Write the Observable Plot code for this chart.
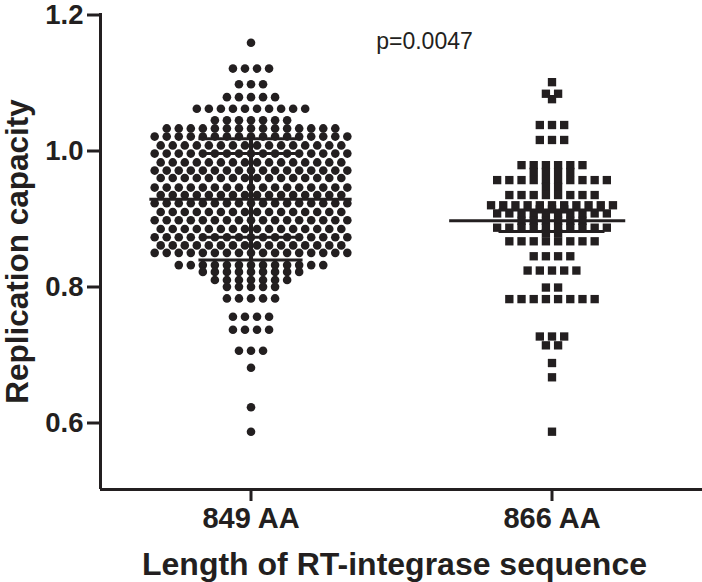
<!DOCTYPE html>
<html><head><meta charset="utf-8">
<script src="https://cdn.jsdelivr.net/npm/d3@7"></script>
<script src="https://cdn.jsdelivr.net/npm/@observablehq/plot@0.6"></script>
<style>body{margin:0;background:#fff} svg{display:block}</style>
</head><body><div id="chart"></div>
<script>
const groups = ["849 AA", "866 AA"];
const yTicks = [0.6, 0.8, 1.0, 1.2];
const pLabel = "p=0.0047";
const xTitle = "Length of RT-integrase sequence";
const yTitle = "Replication capacity";
// rows of points: [replication capacity, number of points]
const rows849 = [
  [1.157,1],[1.119,4],[1.096,3],[1.077,5],[1.060,10],[1.043,7],
  [1.031,15],[1.019,17],[1.006,16],[0.994,17],[0.981,16],[0.969,17],[0.958,16],[0.944,17],
  [0.933,16],[0.921,17],[0.908,16],[0.896,17],[0.883,16],[0.871,17],[0.859,16],[0.848,17],
  [0.830,13],[0.820,9],[0.808,7],[0.798,5],[0.781,5],[0.754,4],[0.735,4],[0.704,3],
  [0.679,1],[0.621,1],[0.585,1]
];
const rows866 = [
  [1.099,1],[1.082,2],[1.074,1],[1.036,3],[1.014,3],[0.977,6],[0.967,4],[0.955,10],
  [0.945,2],[0.933,8],[0.918,11],[0.912,3],[0.906,10],[0.895,6],[0.885,10],[0.877,2],
  [0.865,8],[0.843,4],[0.822,5],[0.797,2],[0.780,8],[0.725,3],[0.712,2],
  [0.686,1],[0.665,1],[0.585,1]
];

const ink = "#231f20";
function spread(rows, center, step) {
  const out = [];
  for (const [v, n] of rows) for (let i = 0; i < n; i++) out.push({value: v, x: center + (i - (n - 1) / 2) * step});
  return out;
}
const pts1 = spread(rows849, 1, 0.04);
const pts2 = spread(rows866, 2, 0.0405);
const v1 = pts1.map(d => d.value).sort(d3.ascending);
const v2 = pts2.map(d => d.value).sort(d3.ascending);
const m1 = d3.mean(v1), sd1 = d3.deviation(v1);
const q1 = d3.quantile(v1, 0.25), q3 = d3.quantile(v1, 0.75);
const m2 = d3.mean(v2), ci2 = 1.96 * d3.deviation(v2) / Math.sqrt(v2.length);

const hl = [
  {y: m1, x1: 1 - 0.336, x2: 1 + 0.336},
  {y: m1 + sd1, x1: 1 - 0.173, x2: 1 + 0.173},
  {y: m1 - sd1, x1: 1 - 0.173, x2: 1 + 0.173},
  {y: q1, x1: 1 - 0.165, x2: 1 + 0.165},
  {y: q3, x1: 1 - 0.165, x2: 1 + 0.165},
  {y: m2, x1: 2 - 0.34, x2: 2 + 0.245},
  {y: m2 + ci2, x1: 2 - 0.176, x2: 2 + 0.176},
  {y: m2 - ci2, x1: 2 - 0.176, x2: 2 + 0.176}
];

const chart = Plot.plot({
  width: 702, height: 582,
  marginTop: 13, marginBottom: 93, marginLeft: 100, marginRight: 0,
  x: {domain: [0.5, 2.5], axis: null},
  y: {domain: [0.5, 1.2], axis: null},
  style: {fontFamily: "'Liberation Sans', Arial, sans-serif", color: ink, background: "#fff"},
  marks: [
    Plot.dot(pts1, {x: "x", y: "value", r: 4.3, fill: ink}),
    Plot.dot(pts2, {x: "x", y: "value", r: 4.7, symbol: "square", fill: ink}),
    Plot.ruleY(hl, {y: "y", x1: "x1", x2: "x2", stroke: ink, strokeWidth: 3}),
    Plot.ruleX([{x: 1, y1: m1 - sd1, y2: m1 + sd1}], {x: "x", y1: "y1", y2: "y2", stroke: ink, strokeWidth: 4}),
    Plot.ruleY([0.5], {stroke: ink, strokeWidth: 3}),
    Plot.ruleX([0.5], {stroke: ink, strokeWidth: 3}),
    Plot.axisY(yTicks, {tickSize: 13, tickPadding: 4, tickFormat: d3.format(".1f"), fontSize: 27.5, fontWeight: "bold", stroke: ink, strokeWidth: 3, fill: ink, label: null, dy: 1.5}),
    Plot.axisX([1, 2], {tickSize: 12, tickPadding: 6, tickFormat: d => groups[d - 1], fontSize: 29, fontWeight: "bold", stroke: ink, strokeWidth: 3, fill: ink, label: null}),
    Plot.text([yTitle], {frameAnchor: "left", dx: -83, rotate: -90, textAnchor: "middle", lineAnchor: "middle", fontSize: 31.5, fontWeight: "bold", fill: ink}),
    Plot.text([xTitle], {frameAnchor: "bottom", dx: -7, dy: 75, textAnchor: "middle", lineAnchor: "middle", fontSize: 32, fontWeight: "bold", fill: ink}),
    Plot.text([pLabel], {frameAnchor: "top", dx: 23, dy: 28, textAnchor: "middle", lineAnchor: "middle", fontSize: 23, fill: ink})
  ]
});
document.getElementById("chart").appendChild(chart);
</script>
</body></html>
